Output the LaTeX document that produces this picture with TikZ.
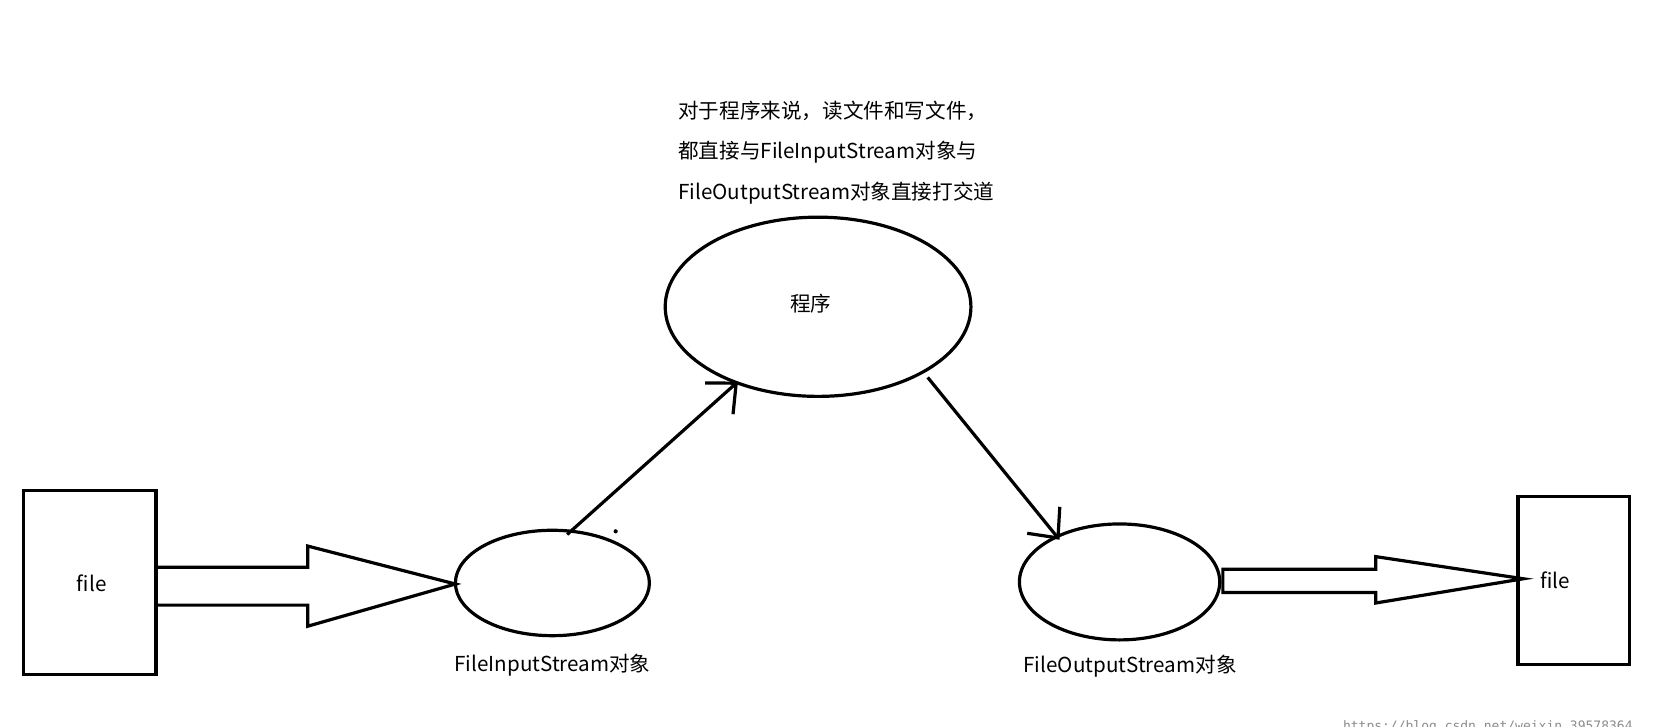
\documentclass[tikz,border=0pt]{standalone}
\usepackage{fontspec}
\setmainfont{Noto Sans CJK SC}
\newfontfamily\wmfont{DejaVu Sans Mono}
\usetikzlibrary{arrows.meta}
\begin{document}
\begin{tikzpicture}[x=1.0542pt,y=-1.0542pt,
  thick3/.style={line width=3.2pt},
  lbl/.style={font=\fontsize{20.6}{24}\selectfont},
  arr/.style={thick3,-{Straight Barb[length=23pt,width=42pt,line width=3.2pt]}}]
\useasboundingbox (0,0) rectangle (1568,688.7);
\fill[white] (0,0) rectangle (1568,688.7);
% left file
\draw[thick3] (22,465) rectangle (148,640);
\node[lbl] (f1) at (87,553) {file};
\draw[thick3] (150,538) -- (292,538) -- (292,518) -- (432,554) -- (292,594) -- (292,574) -- (150,574);
% input ellipse
\draw[thick3] (524,553) ellipse [x radius=92, y radius=50];
\coordinate (inTop) at (538,507);
\node[lbl] (inl) at (524,631) {FileInputStream对象};
% program
\draw[thick3] (776,291) ellipse [x radius=145, y radius=85];
\node[lbl] (prog) at (769,288) {程序};
\coordinate (progIn) at (700,362);
\coordinate (progOut) at (880,358);
% output ellipse
\draw[thick3] (1062,552) ellipse [x radius=95, y radius=55];
\coordinate (outTop) at (1005,512);
\node[lbl] (outl) at (1072,632) {FileOutputStream对象};
% arrows
\draw[arr] (inTop) -- (progIn);
\draw[arr] (progOut) -- (outTop);
\fill (584,504) circle (2);
% right thick arrow
\draw[thick3] (1160,540) -- (1305,540) -- (1305,528) -- (1445,549) -- (1305,572) -- (1305,562) -- (1160,562) -- cycle;
\draw[thick3] (1440,471) rectangle (1546,630);
\node[lbl] (f2) at (1475,550) {file};
% text
\node[lbl,anchor=west] (t1) at (640,105) {对于程序来说，读文件和写文件，};
\node[lbl,anchor=west] (t2) at (640,144) {都直接与FileInputStream对象与};
\node[lbl,anchor=west] (t3) at (640,183) {FileOutputStream对象直接打交道};
\node[anchor=east,text=black!45,font=\wmfont\fontsize{13}{15}\selectfont] (wm) at (1552,690) {https://blog.csdn.net/weixin\_39578364};
\end{tikzpicture}
\end{document}
